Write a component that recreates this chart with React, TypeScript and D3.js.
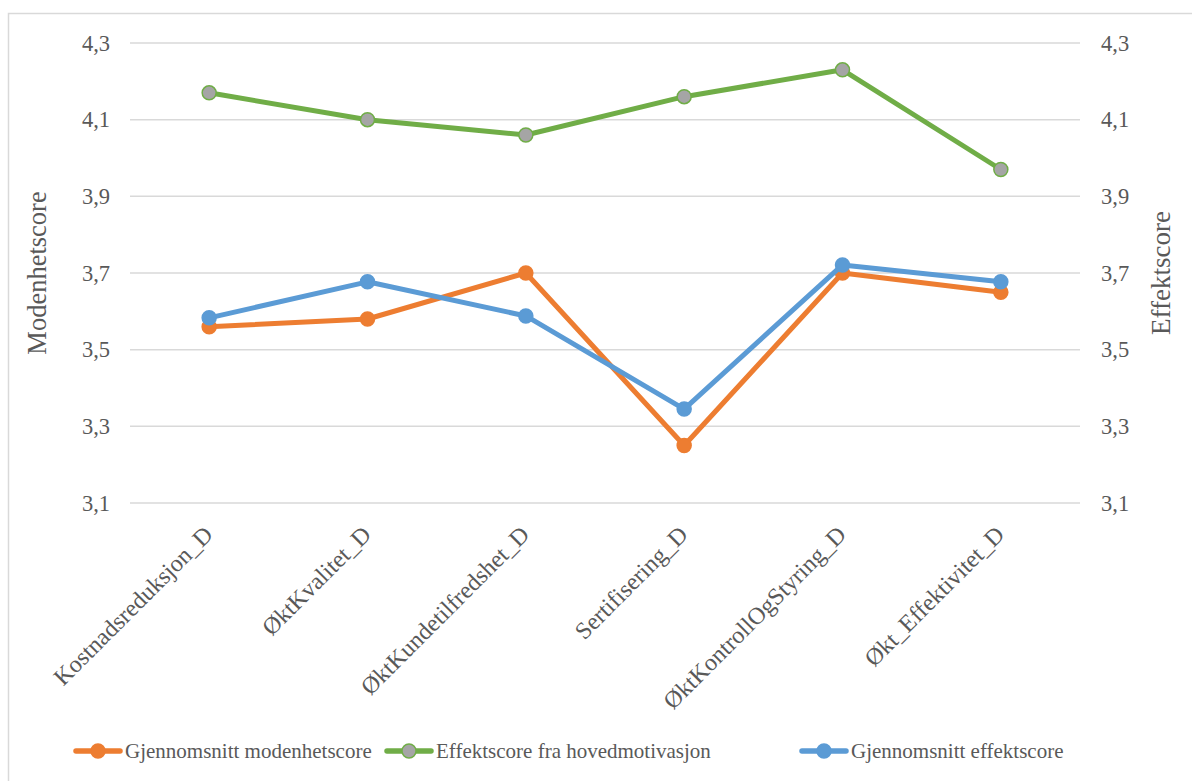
import React from "react";
import * as d3 from "d3";

const categories = [
  "Kostnadsreduksjon_D",
  "ØktKvalitet_D",
  "ØktKundetilfredshet_D",
  "Sertifisering_D",
  "ØktKontrollOgStyring_D",
  "Økt_Effektivitet_D",
];
const modenhet = [3.56, 3.58, 3.7, 3.25, 3.7, 3.65];
const hovedmotivasjon = [4.17, 4.1, 4.06, 4.16, 4.23, 3.97];
const effekt = [3.583, 3.677, 3.588, 3.345, 3.721, 3.677];
const yTicks = [3.1, 3.3, 3.5, 3.7, 3.9, 4.1, 4.3];

const W = 1192;
const H = 781;
const plot = { left: 130, right: 1080, top: 43, bottom: 503 };
const font = "'Liberation Serif', 'Times New Roman', serif";
const textColor = "#595959";

const series = [
  { name: "Gjennomsnitt modenhetscore", values: modenhet, color: "#ED7D31", fill: "#ED7D31", legendX: 74 },
  { name: "Effektscore fra hovedmotivasjon", values: hovedmotivasjon, color: "#70AD47", fill: "#A5A5A5", legendX: 385 },
  { name: "Gjennomsnitt effektscore", values: effekt, color: "#5B9BD5", fill: "#5B9BD5", legendX: 800 },
];

export default function App() {
  const x = d3.scaleBand<string>().domain(categories).range([plot.left, plot.right]);
  const y = d3.scaleLinear().domain([3.1, 4.3]).range([plot.bottom, plot.top]);
  const yRight = d3.scaleLinear().domain([3.1, 4.3]).range([plot.bottom, plot.top]);
  const fmt = (v: number) => v.toFixed(1).replace(".", ",");
  const cx = (c: string) => (x(c) as number) + x.bandwidth() / 2;

  const line = d3
    .line<number>()
    .x((_, i) => cx(categories[i]))
    .y((v) => y(v));

  return (
    <svg
      width={W}
      height={H}
      style={{ position: "absolute", left: 0, top: 0, background: "#fff", fontFamily: font }}
    >
      <rect x={8.5} y={13.5} width={W + 20} height={H + 20} fill="#fff" stroke="#D9D9D9" strokeWidth={1.5} />

      {yTicks.map((t) => (
        <g key={t}>
          <line x1={plot.left} x2={plot.right} y1={y(t)} y2={y(t)} stroke="#D9D9D9" strokeWidth={1.5} />
          <text x={110} y={y(t)} dy="0.34em" textAnchor="end" fontSize={22.5} fill={textColor}>
            {fmt(t)}
          </text>
          <text x={1101} y={yRight(t)} dy="0.34em" textAnchor="start" fontSize={22.5} fill={textColor}>
            {fmt(t)}
          </text>
        </g>
      ))}

      <text
        transform={`translate(46,${(plot.top + plot.bottom) / 2}) rotate(-90)`}
        textAnchor="middle"
        fontSize={26.5}
        fill={textColor}
      >
        Modenhetscore
      </text>
      <text
        transform={`translate(1170,${(plot.top + plot.bottom) / 2}) rotate(-90)`}
        textAnchor="middle"
        fontSize={27}
        fill={textColor}
      >
        Effektscore
      </text>

      {categories.map((c) => (
        <text
          key={c}
          transform={`translate(${cx(c) + 5},${plot.bottom + 33}) rotate(-45)`}
          textAnchor="end"
          fontSize={24}
          fill={textColor}
        >
          {c}
        </text>
      ))}

      {series.map((s) => (
        <g key={s.name}>
          <path d={line(s.values) as string} fill="none" stroke={s.color} strokeWidth={5} strokeLinejoin="round" strokeLinecap="round" />
          {s.values.map((v, i) => (
            <circle key={i} cx={cx(categories[i])} cy={y(v)} r={7} fill={s.fill} stroke={s.color} strokeWidth={1.5} />
          ))}
        </g>
      ))}

      {series.map((s) => (
        <g key={"lg" + s.name} transform={`translate(${s.legendX},751)`}>
          <line x1={2} x2={46} y1={0} y2={0} stroke={s.color} strokeWidth={5.5} strokeLinecap="round" />
          <circle cx={24} cy={0} r={7} fill={s.fill} stroke={s.color} strokeWidth={1.5} />
          <text x={51} y={0} dy="0.34em" fontSize={21} fill={textColor}>
            {s.name}
          </text>
        </g>
      ))}
    </svg>
  );
}
